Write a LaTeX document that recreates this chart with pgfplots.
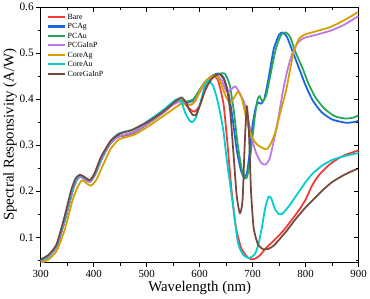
\documentclass[border=0pt]{standalone}
\usepackage{pgfplots}
\pgfplotsset{compat=1.18}
\usepackage{fontspec}
\setmainfont{Liberation Serif}
\definecolor{cBare}{RGB}{240,60,55}
\definecolor{cPCAg}{RGB}{25,100,225}
\definecolor{cPCAu}{RGB}{40,165,90}
\definecolor{cPCG}{RGB}{190,120,230}
\definecolor{cCAg}{RGB}{212,160,0}
\definecolor{cCAu}{RGB}{0,205,205}
\definecolor{cCG}{RGB}{120,72,62}
\begin{document}
\begin{tikzpicture}
\pgfplotsset{
  common/.style={
    scale only axis, width=321bp, height=258bp,
    xmin=300, xmax=900, ymin=0.045, ymax=0.6,
    xtick={300,400,...,900}, minor xtick={350,450,...,850},
    ytick={0.1,0.2,...,0.6}, minor ytick={0.05,0.15,...,0.55},
    axis line style={line width=0.8pt},
    major tick length=4.5bp, minor tick length=3bp,
    every tick/.style={black, line width=0.7pt},
  }
}
\begin{axis}[common,
  tick align=outside, xtick pos=bottom, ytick pos=left,
  /pgf/number format/assume math mode=true,
  yticklabel style={font=\fontsize{11.5}{13}\selectfont, /pgf/number format/fixed, /pgf/number format/precision=1, /pgf/number format/fixed zerofill, xshift=1bp},
  xticklabel style={font=\fontsize{11}{13}\selectfont, /pgf/number format/set thousands separator={}},
  xlabel={Wavelength (nm)}, ylabel={Spectral Responsivity (A/W)},
  label style={font=\fontsize{15}{17}\selectfont},
  xlabel style={yshift=3bp}, ylabel style={yshift=-4bp},
  legend style={at={(0.015,0.985)}, anchor=north west, draw=none, fill=none,
    font=\fontsize{8}{9}\selectfont, row sep=-1.2pt, inner sep=1pt},
  legend cell align=left,
  legend image code/.code={\draw[#1, line width=2.2pt] (0,0) -- (0.6cm,0);},
  every axis plot/.append style={line width=1.8pt, smooth, tension=0.35, line join=round},
]
\addplot[cBare] coordinates {
(300,0.048)(315,0.058)(330,0.080)(345,0.135)(360,0.200)(368,0.225)(375,0.232)(385,0.225)(393,0.221)(402,0.235)(415,0.270)(430,0.302)(445,0.318)(460,0.321)(475,0.326)(490,0.337)(505,0.349)(520,0.361)(535,0.374)(550,0.389)(560,0.398)(570,0.393)(580,0.380)(590,0.373)(600,0.386)(610,0.420)(620,0.444)(628,0.450)(635,0.440)(645,0.390)(652,0.310)(660,0.205)(668,0.125)(678,0.078)(690,0.057)(700,0.052)(712,0.059)(725,0.076)(740,0.093)(757,0.113)(770,0.132)(788,0.160)(800,0.182)(813,0.214)(825,0.235)(844,0.257)(860,0.270)(875,0.279)(890,0.285)(900,0.289)};
\addlegendentry{Bare}
\addplot[cPCAg] coordinates {
(300,0.048)(315,0.058)(330,0.080)(345,0.135)(360,0.200)(368,0.225)(375,0.232)(385,0.225)(393,0.221)(402,0.235)(415,0.270)(430,0.302)(445,0.318)(460,0.323)(475,0.328)(490,0.338)(505,0.350)(520,0.362)(535,0.375)(550,0.390)(563,0.397)(575,0.392)(588,0.398)(600,0.420)(612,0.440)(625,0.452)(635,0.456)(645,0.448)(655,0.410)(662,0.360)(670,0.290)(678,0.245)(685,0.228)(690,0.245)(695,0.290)(700,0.345)(706,0.383)(711,0.393)(716,0.390)(722,0.400)(730,0.445)(740,0.510)(750,0.540)(757,0.545)(765,0.535)(775,0.505)(790,0.460)(800,0.430)(813,0.398)(830,0.372)(850,0.356)(875,0.349)(890,0.350)(900,0.353)};
\addlegendentry{PCAg}
\addplot[cPCAu] coordinates {
(300,0.048)(315,0.058)(330,0.080)(345,0.135)(360,0.200)(368,0.225)(375,0.232)(385,0.225)(393,0.221)(402,0.235)(415,0.270)(430,0.302)(445,0.318)(460,0.323)(475,0.328)(490,0.338)(505,0.350)(520,0.362)(535,0.375)(550,0.390)(563,0.398)(575,0.395)(588,0.400)(600,0.420)(612,0.440)(625,0.450)(640,0.456)(648,0.455)(657,0.430)(665,0.370)(672,0.300)(680,0.245)(688,0.228)(693,0.250)(698,0.300)(704,0.360)(709,0.398)(713,0.407)(719,0.395)(726,0.410)(734,0.455)(744,0.510)(754,0.540)(763,0.545)(771,0.535)(780,0.505)(795,0.465)(805,0.435)(818,0.405)(835,0.380)(855,0.363)(875,0.358)(890,0.360)(900,0.365)};
\addlegendentry{PCAu}
\addplot[cPCG] coordinates {
(300,0.048)(315,0.058)(330,0.080)(345,0.135)(360,0.200)(368,0.225)(375,0.232)(385,0.225)(393,0.221)(402,0.235)(415,0.270)(430,0.302)(445,0.318)(460,0.323)(475,0.328)(490,0.338)(505,0.350)(520,0.362)(535,0.375)(550,0.388)(563,0.395)(575,0.390)(585,0.388)(598,0.410)(610,0.435)(622,0.448)(632,0.452)(642,0.440)(651,0.416)(660,0.422)(667,0.428)(675,0.415)(685,0.390)(692,0.355)(698,0.318)(706,0.285)(716,0.262)(724,0.258)(732,0.270)(740,0.310)(748,0.355)(756,0.410)(765,0.460)(775,0.500)(785,0.522)(795,0.532)(810,0.537)(830,0.543)(850,0.550)(870,0.560)(885,0.570)(900,0.581)};
\addlegendentry{PCGaInP}
\addplot[cCAg] coordinates {
(300,0.044)(315,0.052)(330,0.070)(345,0.115)(360,0.180)(370,0.210)(378,0.224)(386,0.218)(395,0.212)(405,0.225)(418,0.258)(432,0.292)(447,0.312)(462,0.318)(477,0.323)(492,0.333)(507,0.344)(522,0.356)(537,0.368)(552,0.380)(565,0.390)(575,0.388)(583,0.388)(592,0.396)(601,0.420)(612,0.440)(620,0.448)(629,0.452)(638,0.440)(648,0.410)(657,0.392)(665,0.403)(672,0.416)(680,0.400)(691,0.343)(700,0.315)(710,0.300)(726,0.291)(735,0.305)(744,0.332)(752,0.370)(763,0.418)(770,0.460)(778,0.505)(788,0.532)(800,0.541)(815,0.546)(830,0.551)(845,0.556)(860,0.564)(875,0.573)(890,0.583)(900,0.590)};
\addlegendentry{CoreAg}
\addplot[cCAu] coordinates {
(300,0.050)(315,0.060)(330,0.083)(345,0.140)(360,0.205)(368,0.228)(375,0.235)(385,0.228)(393,0.224)(402,0.238)(415,0.274)(430,0.306)(445,0.324)(460,0.330)(475,0.334)(490,0.343)(505,0.355)(520,0.367)(535,0.380)(548,0.393)(557,0.400)(565,0.395)(573,0.370)(580,0.355)(586,0.350)(593,0.360)(602,0.395)(610,0.430)(617,0.440)(625,0.430)(632,0.405)(638,0.374)(645,0.330)(651,0.270)(657,0.220)(663,0.170)(672,0.090)(682,0.062)(694,0.055)(705,0.065)(712,0.090)(718,0.125)(724,0.165)(730,0.188)(735,0.185)(742,0.162)(750,0.150)(757,0.152)(770,0.170)(782,0.190)(800,0.220)(813,0.238)(830,0.255)(850,0.268)(875,0.277)(900,0.283)};
\addlegendentry{CoreAu}
\addplot[cCG] coordinates {
(300,0.052)(315,0.062)(330,0.085)(345,0.145)(358,0.204)(366,0.228)(374,0.236)(384,0.230)(393,0.224)(402,0.240)(414,0.275)(433,0.311)(451,0.326)(470,0.332)(489,0.343)(507,0.354)(526,0.369)(545,0.386)(557,0.398)(566,0.404)(573,0.395)(580,0.378)(587,0.366)(593,0.366)(600,0.385)(610,0.418)(620,0.440)(630,0.452)(638,0.454)(645,0.445)(652,0.420)(658,0.370)(664,0.280)(670,0.190)(676,0.152)(681,0.180)(685,0.300)(689,0.385)(693,0.330)(697,0.200)(702,0.120)(710,0.085)(720,0.074)(730,0.075)(740,0.082)(750,0.095)(765,0.115)(780,0.138)(800,0.165)(813,0.180)(830,0.200)(850,0.220)(875,0.237)(900,0.250)};
\addlegendentry{CoreGaInP}
\end{axis}
\begin{axis}[common, tick align=inside, xtick pos=top, ytick pos=right,
  xticklabels={}, yticklabels={}, axis line style={draw=none}]
\end{axis}
\end{tikzpicture}
\end{document}
